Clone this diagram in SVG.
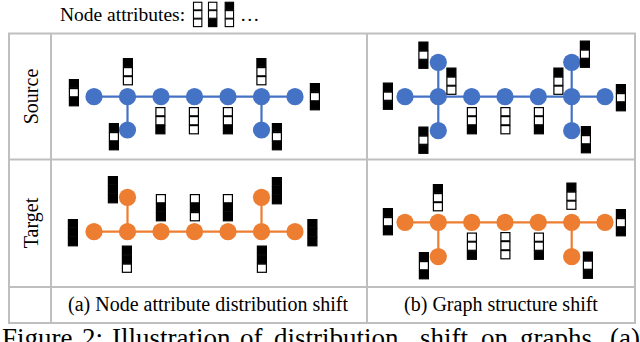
<svg xmlns="http://www.w3.org/2000/svg" xmlns:xlink="http://www.w3.org/1999/xlink" width="640" height="342" viewBox="0 0 640 342">
<style>
.t{font-family:"Liberation Serif","Times New Roman",serif;fill:#000}
.grid{fill:none;stroke:#BFBFBF;stroke-width:2}
.eb{stroke:#4472C4;stroke-width:2.2;fill:none}
.eo{stroke:#ED7D31;stroke-width:2.2;fill:none}
.nb{fill:#4472C4}
.no{fill:#ED7D31}
</style>
<defs>
<rect id="W" x="0.2" y="0.6" width="9" height="8.2" fill="#fff" stroke="#000" stroke-width="1.2"/>
<rect id="B" x="0.2" y="0.6" width="9" height="8.2" fill="#000" stroke="#000" stroke-width="1.2"/>
<g id="BWB"><use xlink:href="#B"/><use xlink:href="#W" y="9"/><use xlink:href="#B" y="18"/></g>
<g id="BWW"><use xlink:href="#B"/><use xlink:href="#W" y="9"/><use xlink:href="#W" y="18"/></g>
<g id="WWB"><use xlink:href="#W"/><use xlink:href="#W" y="9"/><use xlink:href="#B" y="18"/></g>
<g id="WWW"><use xlink:href="#W"/><use xlink:href="#W" y="9"/><use xlink:href="#W" y="18"/></g>
<g id="BBB"><use xlink:href="#B"/><use xlink:href="#B" y="9"/><use xlink:href="#B" y="18"/></g>
<g id="BBW"><use xlink:href="#B"/><use xlink:href="#B" y="9"/><use xlink:href="#W" y="18"/></g>
<g id="WBB"><use xlink:href="#W"/><use xlink:href="#B" y="9"/><use xlink:href="#B" y="18"/></g>
<g id="WBW"><use xlink:href="#W"/><use xlink:href="#B" y="9"/><use xlink:href="#W" y="18"/></g>
</defs>

<!-- header -->
<g id="legend">
<text class="t" x="60" y="21" font-size="19.5">Node attributes:</text>
<use xlink:href="#WWW" transform="translate(193.3,1.7) scale(0.93)"/>
<use xlink:href="#WWB" transform="translate(208.3,1.7) scale(0.93)"/>
<use xlink:href="#BWW" transform="translate(225,1.7) scale(0.93)"/>
<text class="t" x="240" y="21" font-size="19.5">…</text>
</g>

<!-- table grid -->
<g id="table">
<rect class="grid" x="9" y="33.5" width="626" height="289.5"/>
<line class="grid" x1="51" y1="33.5" x2="51" y2="323"/>
<line class="grid" x1="367" y1="33.5" x2="367" y2="323"/>
<line class="grid" x1="9" y1="159.5" x2="635" y2="159.5"/>
<line class="grid" x1="9" y1="287" x2="635" y2="287"/>
<text class="t" font-size="20" text-anchor="middle" transform="translate(38,96.5) rotate(-90)">Source</text>
<text class="t" font-size="20" text-anchor="middle" transform="translate(38,223) rotate(-90)">Target</text>
<text class="t" font-size="20" text-anchor="middle" x="208" y="311">(a) Node attribute distribution shift</text>
<text class="t" font-size="20" text-anchor="middle" x="501" y="311">(b) Graph structure shift</text>
</g>

<!-- connectors -->
<g id="connectors">
<line class="eb" x1="94" y1="96.7" x2="295" y2="96.7"/>
<line class="eb" x1="127.5" y1="96.7" x2="127.5" y2="130"/>
<line class="eb" x1="261.5" y1="96.7" x2="261.5" y2="130"/>
<line class="eb" x1="405" y1="96.7" x2="605" y2="96.7"/>
<line class="eb" x1="438.3" y1="62.3" x2="438.3" y2="130.7"/>
<line class="eb" x1="571.7" y1="62.3" x2="571.7" y2="130.7"/>
<line class="eo" x1="94" y1="231.7" x2="295" y2="231.7"/>
<line class="eo" x1="127.5" y1="197.3" x2="127.5" y2="231.7"/>
<line class="eo" x1="261.5" y1="197.3" x2="261.5" y2="231.7"/>
<line class="eo" x1="405" y1="222.3" x2="605" y2="222.3"/>
<line class="eo" x1="438.3" y1="222.3" x2="438.3" y2="256.7"/>
<line class="eo" x1="571.7" y1="222.3" x2="571.7" y2="256.7"/>
</g>

<!-- (a) source nodes -->
<g id="as1"><circle class="nb" cx="94" cy="96.7" r="8.6"/></g>
<g id="as2"><circle class="nb" cx="127.5" cy="96.7" r="8.6"/></g>
<g id="as3"><circle class="nb" cx="161" cy="96.7" r="8.6"/></g>
<g id="as4"><circle class="nb" cx="194.5" cy="96.7" r="8.6"/></g>
<g id="as5"><circle class="nb" cx="228" cy="96.7" r="8.6"/></g>
<g id="as6"><circle class="nb" cx="261.5" cy="96.7" r="8.6"/></g>
<g id="as7"><circle class="nb" cx="295" cy="96.7" r="8.6"/></g>
<g id="as8"><circle class="nb" cx="127.5" cy="130" r="8.6"/></g>
<g id="as9"><circle class="nb" cx="261.5" cy="130" r="8.6"/></g>
<g id="as-attr">
<use xlink:href="#BWB" x="69.2" y="79"/>
<use xlink:href="#BWW" x="123.2" y="58"/>
<use xlink:href="#BWB" x="109.2" y="123"/>
<use xlink:href="#WWB" x="155.7" y="107"/>
<use xlink:href="#WWW" x="189.2" y="107"/>
<use xlink:href="#WWB" x="223.2" y="107"/>
<use xlink:href="#BWW" x="256.7" y="58"/>
<use xlink:href="#BWB" x="272.2" y="123"/>
<use xlink:href="#BWB" x="310.2" y="83"/>
</g>

<!-- (b) source nodes -->
<g id="bs1"><circle class="nb" cx="405" cy="96.7" r="8.6"/></g>
<g id="bs2"><circle class="nb" cx="438.3" cy="96.7" r="8.6"/></g>
<g id="bs3"><circle class="nb" cx="471.7" cy="96.7" r="8.6"/></g>
<g id="bs4"><circle class="nb" cx="505" cy="96.7" r="8.6"/></g>
<g id="bs5"><circle class="nb" cx="538.3" cy="96.7" r="8.6"/></g>
<g id="bs6"><circle class="nb" cx="571.7" cy="96.7" r="8.6"/></g>
<g id="bs7"><circle class="nb" cx="605" cy="96.7" r="8.6"/></g>
<g id="bs8"><circle class="nb" cx="438.3" cy="62.3" r="8.6"/></g>
<g id="bs9"><circle class="nb" cx="438.3" cy="130.7" r="8.6"/></g>
<g id="bs10"><circle class="nb" cx="571.7" cy="62.3" r="8.6"/></g>
<g id="bs11"><circle class="nb" cx="571.7" cy="130.7" r="8.6"/></g>
<g id="bs-attr">
<use xlink:href="#BWB" x="383.2" y="82.5"/>
<use xlink:href="#BWB" x="418.7" y="41.5"/>
<use xlink:href="#BWW" x="446.7" y="67.5"/>
<use xlink:href="#WWB" x="467.2" y="107"/>
<use xlink:href="#WWW" x="500.7" y="107"/>
<use xlink:href="#WWB" x="534.2" y="107"/>
<use xlink:href="#BWW" x="553.7" y="67.5"/>
<use xlink:href="#BWB" x="580.2" y="40.5"/>
<use xlink:href="#BWB" x="616.2" y="84"/>
<use xlink:href="#BWB" x="418.7" y="126.5"/>
<use xlink:href="#BWB" x="581.2" y="126"/>
</g>

<!-- (a) target nodes -->
<g id="at1"><circle class="no" cx="94" cy="231.7" r="8.6"/></g>
<g id="at2"><circle class="no" cx="127.5" cy="231.7" r="8.6"/></g>
<g id="at3"><circle class="no" cx="161" cy="231.7" r="8.6"/></g>
<g id="at4"><circle class="no" cx="194.5" cy="231.7" r="8.6"/></g>
<g id="at5"><circle class="no" cx="228" cy="231.7" r="8.6"/></g>
<g id="at6"><circle class="no" cx="261.5" cy="231.7" r="8.6"/></g>
<g id="at7"><circle class="no" cx="295" cy="231.7" r="8.6"/></g>
<g id="at8"><circle class="no" cx="127.5" cy="197.3" r="8.6"/></g>
<g id="at9"><circle class="no" cx="261.5" cy="197.3" r="8.6"/></g>
<g id="at-attr">
<use xlink:href="#BBB" x="68.2" y="219"/>
<use xlink:href="#BBB" x="108.2" y="176"/>
<use xlink:href="#BBW" x="122.2" y="245.5"/>
<use xlink:href="#WBB" x="156.2" y="194"/>
<use xlink:href="#WBW" x="190.2" y="194"/>
<use xlink:href="#WBB" x="223.2" y="194"/>
<use xlink:href="#BBB" x="272.2" y="177"/>
<use xlink:href="#BBW" x="257.2" y="245.5"/>
<use xlink:href="#BBB" x="307.7" y="219"/>
</g>

<!-- (b) target nodes -->
<g id="bt1"><circle class="no" cx="405" cy="222.3" r="8.6"/></g>
<g id="bt2"><circle class="no" cx="438.3" cy="222.3" r="8.6"/></g>
<g id="bt3"><circle class="no" cx="471.7" cy="222.3" r="8.6"/></g>
<g id="bt4"><circle class="no" cx="505" cy="222.3" r="8.6"/></g>
<g id="bt5"><circle class="no" cx="538.3" cy="222.3" r="8.6"/></g>
<g id="bt6"><circle class="no" cx="571.7" cy="222.3" r="8.6"/></g>
<g id="bt7"><circle class="no" cx="605" cy="222.3" r="8.6"/></g>
<g id="bt8"><circle class="no" cx="438.3" cy="256.7" r="8.6"/></g>
<g id="bt9"><circle class="no" cx="571.7" cy="256.7" r="8.6"/></g>
<g id="bt-attr">
<use xlink:href="#BWB" x="383.2" y="208"/>
<use xlink:href="#BWW" x="433.2" y="184"/>
<use xlink:href="#WWB" x="467.2" y="232.5"/>
<use xlink:href="#WWW" x="500.7" y="232"/>
<use xlink:href="#WWB" x="534.2" y="232.5"/>
<use xlink:href="#BWW" x="566.7" y="182.5"/>
<use xlink:href="#BWB" x="616.2" y="209"/>
<use xlink:href="#BWB" x="419.2" y="252"/>
<use xlink:href="#BWB" x="583.2" y="251.5"/>
</g>

<!-- figure caption (cut off by the frame) -->
<g id="caption" class="t" font-size="27">
<text x="2" y="346.5">Figure</text>
<text x="82" y="346.5">2:</text>
<text x="112" y="346.5">Illustration</text>
<text x="240" y="346.5">of</text>
<text x="274" y="346.5">distribution</text>
<text x="420" y="346.5">shift</text>
<text x="481" y="346.5">on</text>
<text x="520" y="346.5">graphs.</text>
<text x="610" y="346.5">(a)</text>
</g>
</svg>
